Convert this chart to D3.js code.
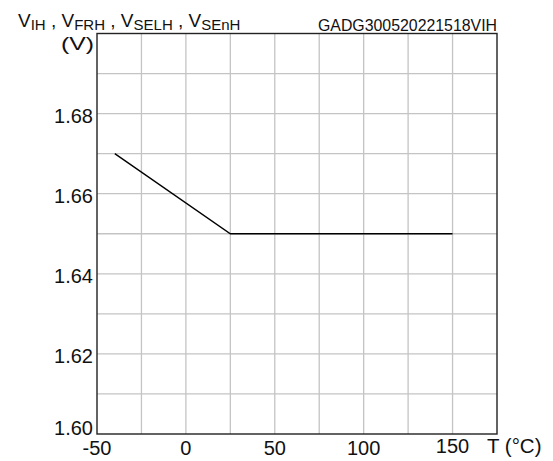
<!DOCTYPE html>
<html><head><meta charset="utf-8">
<script src="https://cdn.jsdelivr.net/npm/d3@7"></script>
<style>body{margin:0;background:#fff}svg{display:block;font-family:"Liberation Sans",Arial,sans-serif}</style>
</head><body><svg id="c" width="553" height="461"></svg>
<script>
const temps = [-40, 25, 150];
const volts = [1.67, 1.65, 1.65];
const xTickLabels = [-50, 0, 50, 100, 150];
const yTickLabels = [1.60, 1.62, 1.64, 1.66, 1.68];
const xGrid = d3.range(-50, 176, 25);
const yGrid = d3.range(0, 11).map(i => 1.60 + i * 0.01);

const svg = d3.select("#c");
const L = 97, R = 497, T = 33.5, B = 434;
const x = d3.scaleLinear().domain([-50, 175]).range([L, R]);
const y = d3.scaleLinear().domain([1.60, 1.70]).range([B, T]);

svg.append("g").selectAll("line").data(xGrid.slice(1, -1)).join("line")
  .attr("x1", d => x(d)).attr("x2", d => x(d)).attr("y1", T).attr("y2", B)
  .attr("stroke", "#c4c4c4").attr("stroke-width", 1.3);
svg.append("g").selectAll("line").data(yGrid.slice(1, -1)).join("line")
  .attr("y1", d => y(d)).attr("y2", d => y(d)).attr("x1", L).attr("x2", R)
  .attr("stroke", "#c4c4c4").attr("stroke-width", 1.3);

svg.append("rect").attr("x", L).attr("y", T).attr("width", R - L).attr("height", B - T)
  .attr("fill", "none").attr("stroke", "#222").attr("stroke-width", 1.4);

svg.append("path").datum(temps.map((t, i) => [t, volts[i]]))
  .attr("d", d3.line().x(d => x(d[0])).y(d => y(d[1])))
  .attr("fill", "none").attr("stroke", "#000").attr("stroke-width", 1.4);

svg.append("g").selectAll("text").data(yTickLabels).join("text")
  .attr("x", L - 4).attr("y", d => d === 1.60 ? 435 : y(d) + 9).attr("text-anchor", "end")
  .attr("font-size", 20).attr("fill", "#111").text(d => d.toFixed(2));

svg.append("g").selectAll("text").data(xTickLabels).join("text")
  .attr("x", d => x(d)).attr("y", d => d === 150 ? 453 : 455).attr("text-anchor", "middle")
  .attr("font-size", 20).attr("fill", "#111").text(d => d);

svg.append("text").attr("x", 487).attr("y", 453).attr("font-size", 20.5).attr("fill", "#111").text("T (°C)");

const t = svg.append("text").attr("x", 18).attr("y", 27).attr("font-size", 19).attr("fill", "#111");
const parts = [["V", "IH"], [" , V", "FRH"], [" , V", "SELH"], [" , V", "SEnH"]];
parts.forEach(([a, b], i) => {
  t.append("tspan").attr("dy", i === 0 ? 0 : -3).text(a);
  t.append("tspan").attr("font-size", 15).attr("dy", 3).text(b);
});
svg.append("text").attr("x", 61).attr("y", 49.5).attr("font-size", 19)
  .attr("textLength", 33).attr("lengthAdjust", "spacingAndGlyphs").attr("fill", "#111").text("(V)");
svg.append("text").attr("x", 318).attr("y", 31).attr("font-size", 16)
  .attr("textLength", 179).attr("lengthAdjust", "spacingAndGlyphs").attr("fill", "#111").text("GADG300520221518VIH");
</script></body></html>
